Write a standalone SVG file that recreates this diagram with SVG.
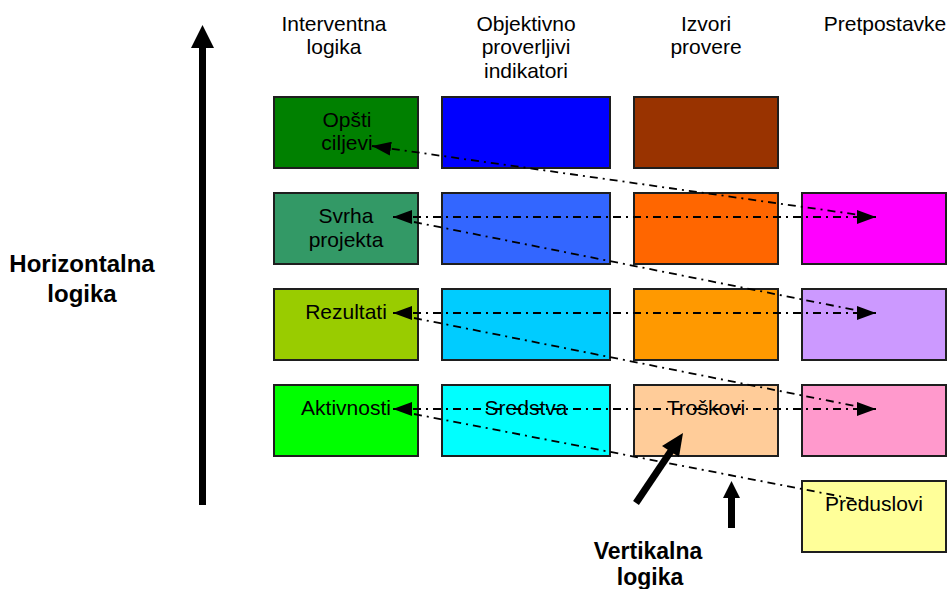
<svg xmlns="http://www.w3.org/2000/svg" width="951" height="589" viewBox="0 0 951 589">
  <style>
    .box { stroke: #1e1e1e; stroke-width: 2; }
    .t { font-family: "Liberation Sans", Arial, sans-serif; font-size: 21px; fill: #000; text-anchor: middle; }
    .b { font-family: "Liberation Sans", Arial, sans-serif; font-size: 24px; font-weight: bold; fill: #000; text-anchor: middle; }
    .link { stroke: #000; stroke-width: 1.8; stroke-dasharray: 8 5 2 5; fill: none; }
    .thick { stroke: #000; stroke-width: 7; fill: none; }
  </style>
  <defs>
    <marker id="tip" viewBox="0 0 19 14" markerWidth="19" markerHeight="14" refX="19" refY="7" markerUnits="userSpaceOnUse" orient="auto-start-reverse">
      <path d="M0,0 L19,7 L0,14 z" fill="#000"/>
    </marker>
  </defs>

  <rect width="951" height="589" fill="#fff"/>

  <!-- column headings -->
  <g id="headings">
    <text class="t" x="334" y="30.5">Interventna</text>
    <text class="t" x="334" y="54">logika</text>
    <text class="t" x="526" y="30.5">Objektivno</text>
    <text class="t" x="526" y="54">proverljivi</text>
    <text class="t" x="526" y="77.5">indikatori</text>
    <text class="t" x="706" y="30.5">Izvori</text>
    <text class="t" x="706" y="54">provere</text>
    <text class="t" x="885" y="30.5">Pretpostavke</text>
  </g>

  <!-- horizontal logic label and arrow -->
  <g id="horizontal-logic">
    <text class="b" x="82" y="272">Horizontalna</text>
    <text class="b" x="82" y="302">logika</text>
    <rect x="199" y="46" width="7" height="459" fill="#000"/>
    <polygon points="202.5,25 214,48 191,48" fill="#000"/>
  </g>

  <!-- row 1 -->
  <g id="opsti-ciljevi">
    <rect class="box" x="274" y="97" width="144" height="71" fill="#008000"/>
    <text class="t" x="347" y="127">Opšti</text>
    <text class="t" x="347" y="150">ciljevi</text>
  </g>
  <g id="ind-1"><rect class="box" x="442" y="97" width="168" height="71" fill="#0000FF"/></g>
  <g id="izv-1"><rect class="box" x="634" y="97" width="144" height="71" fill="#993300"/></g>

  <!-- row 2 -->
  <g id="svrha-projekta">
    <rect class="box" x="274" y="193" width="144" height="71" fill="#339966"/>
    <text class="t" x="346" y="223">Svrha</text>
    <text class="t" x="346" y="246.5">projekta</text>
  </g>
  <g id="ind-2"><rect class="box" x="442" y="193" width="168" height="71" fill="#3366FF"/></g>
  <g id="izv-2"><rect class="box" x="634" y="193" width="144" height="71" fill="#FF6600"/></g>
  <g id="pre-2"><rect class="box" x="802" y="193" width="144" height="71" fill="#FF00FF"/></g>

  <!-- row 3 -->
  <g id="rezultati">
    <rect class="box" x="274" y="289" width="144" height="71" fill="#99CC00"/>
    <text class="t" x="346" y="318.5">Rezultati</text>
  </g>
  <g id="ind-3"><rect class="box" x="442" y="289" width="168" height="71" fill="#00CCFF"/></g>
  <g id="izv-3"><rect class="box" x="634" y="289" width="144" height="71" fill="#FF9900"/></g>
  <g id="pre-3"><rect class="box" x="802" y="289" width="144" height="71" fill="#CC99FF"/></g>

  <!-- row 4 -->
  <g id="aktivnosti">
    <rect class="box" x="274" y="385" width="144" height="71" fill="#00FF00"/>
    <text class="t" x="346" y="414.5">Aktivnosti</text>
  </g>
  <g id="sredstva">
    <rect class="box" x="442" y="385" width="168" height="71" fill="#00FFFF"/>
    <text class="t" x="526" y="414.5">Sredstva</text>
  </g>
  <g id="troskovi">
    <rect class="box" x="634" y="385" width="144" height="71" fill="#FFCC99"/>
    <text class="t" x="706" y="414.5">Troškovi</text>
  </g>
  <g id="pre-4"><rect class="box" x="802" y="385" width="144" height="71" fill="#FF99CC"/></g>

  <!-- preconditions -->
  <g id="preduslovi">
    <rect class="box" x="802" y="481" width="144" height="71" fill="#FFFF99"/>
    <text class="t" x="874" y="510.5">Preduslovi</text>
  </g>

  <!-- vertical logic label and arrows (drawn over the cost box) -->
  <g id="vertical-logic">
    <text class="b" x="648" y="559" style="font-size:23px">Vertikalna</text>
    <text class="b" x="650" y="585" style="font-size:23px">logika</text>
    <line class="thick" x1="636" y1="503" x2="673" y2="448"/>
    <polygon points="683,433 679,457 662,446" fill="#000"/>
    <rect x="728" y="496" width="7" height="32" fill="#000"/>
    <polygon points="731.5,481 740,498 723,498" fill="#000"/>
  </g>

  <!-- dash-dot connectors -->
  <g id="connectors">
    <line class="link" x1="372" y1="146" x2="860" y2="215" marker-start="url(#tip)"/>
    <line class="link" x1="393" y1="217" x2="876" y2="217" marker-start="url(#tip)" marker-end="url(#tip)"/>
    <line class="link" x1="414" y1="222" x2="860" y2="311"/>
    <line class="link" x1="393" y1="313" x2="876" y2="313" marker-start="url(#tip)" marker-end="url(#tip)"/>
    <line class="link" x1="414" y1="318" x2="860" y2="407"/>
    <line class="link" x1="393" y1="409" x2="876" y2="409" marker-start="url(#tip)" marker-end="url(#tip)"/>
    <line class="link" x1="414" y1="414" x2="864" y2="501"/>
  </g>
</svg>
